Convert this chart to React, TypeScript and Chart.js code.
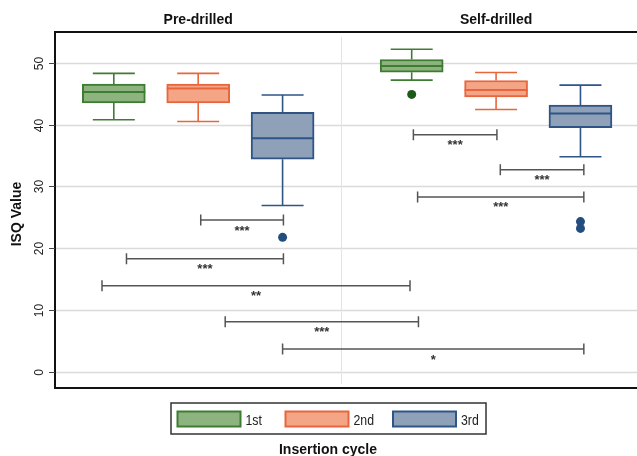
import React, { useEffect, useRef } from 'react';
import { Chart, registerables } from 'chart.js';

Chart.register(...registerables);

// ---------- data ----------
const categories = ['Pre-drilled', 'Self-drilled'];
const seriesNames = ['1st', '2nd', '3rd'];
// [series][category]
const lowerWhisker = [[40.8, 47.2], [40.5, 42.45], [26.9, 34.8]];
const q1Values = [[43.5, 48.5], [43.5, 44.5], [34.4, 39.5]];
const medianValues = [[45.3, 49.5], [45.85, 45.6], [37.8, 41.8]];
const q3Values = [[46.55, 50.55], [46.55, 47.15], [42.0, 43.15]];
const upperWhisker = [[48.3, 52.2], [48.3, 48.45], [44.8, 46.4]];
const outlierValues = [[[], [44.9]], [[], []], [[21.75], [24.3, 23.2]]];
const yTicks = [0, 10, 20, 30, 40, 50];
// significance brackets (x in box-position units, y in ISQ units)
const bracketFrom = [2.03, 1.15, 0.86, 2.32, 3.0, 4.55, 5.58, 4.6];
const bracketTo = [3.01, 3.01, 4.51, 4.61, 6.57, 5.54, 6.57, 6.57];
const bracketLevel = [24.55, 18.3, 13.9, 8.1, 3.67, 38.35, 32.7, 28.3];
const bracketLabels = ['***', '***', '**', '***', '*', '***', '***', '***'];

// ---------- styles ----------
const fills = ['#8db47e', '#f3a586', '#8ea1b8'];
const borders = ['#3f7c33', '#e8663d', '#2f5486'];
const outlierColors = ['#1d5a17', '#d9531e', '#234d7e'];
const GROUP_SHIFT = 3.53;
const pos = (s: number, c: number) => 1 + s + c * GROUP_SHIFT;
const FONT = "'Liberation Sans', Arial, sans-serif";
const BOX_W = 63;
const CAP_W = 42;

const decorPlugin = {
  id: 'decor',
  beforeDatasetsDraw(chart: any) {
    const { ctx, chartArea: a, scales } = chart;
    const y = scales.y;
    const x = scales.x;
    ctx.save();
    ctx.strokeStyle = '#dadada';
    ctx.lineWidth = 1.5;
    yTicks.forEach((t) => {
      const py = Math.round(y.getPixelForValue(t)) + 0.5;
      ctx.beginPath();
      ctx.moveTo(a.left, py);
      ctx.lineTo(a.right, py);
      ctx.stroke();
    });
    // panel divider
    const dx = Math.round(x.getPixelForValue(3.69)) + 0.5;
    ctx.strokeStyle = '#e4e4e4';
    ctx.lineWidth = 1;
    ctx.beginPath();
    ctx.moveTo(dx, a.top + 5);
    ctx.lineTo(dx, a.bottom - 4);
    ctx.stroke();
    // whiskers (behind boxes)
    seriesNames.forEach((_, s) => {
      categories.forEach((__, c) => {
        const px = x.getPixelForValue(pos(s, c));
        ctx.strokeStyle = borders[s];
        ctx.lineWidth = 1.6;
        const lo = y.getPixelForValue(lowerWhisker[s][c]);
        const hi = y.getPixelForValue(upperWhisker[s][c]);
        const b1 = y.getPixelForValue(q1Values[s][c]);
        const b3 = y.getPixelForValue(q3Values[s][c]);
        ctx.beginPath();
        ctx.moveTo(px, b3);
        ctx.lineTo(px, hi);
        ctx.moveTo(px - CAP_W / 2, hi);
        ctx.lineTo(px + CAP_W / 2, hi);
        ctx.moveTo(px, b1);
        ctx.lineTo(px, lo);
        ctx.moveTo(px - CAP_W / 2, lo);
        ctx.lineTo(px + CAP_W / 2, lo);
        ctx.stroke();
      });
    });
    ctx.restore();
  },
  afterDatasetsDraw(chart: any) {
    const { ctx, scales } = chart;
    const y = scales.y;
    const x = scales.x;
    ctx.save();
    // medians
    seriesNames.forEach((_, s) => {
      categories.forEach((__, c) => {
        const px = x.getPixelForValue(pos(s, c));
        const m = y.getPixelForValue(medianValues[s][c]);
        ctx.strokeStyle = borders[s];
        ctx.lineWidth = 2;
        ctx.beginPath();
        ctx.moveTo(px - BOX_W / 2, m);
        ctx.lineTo(px + BOX_W / 2, m);
        ctx.stroke();
      });
    });
    // brackets
    bracketLabels.forEach((lab, i) => {
      const x1 = x.getPixelForValue(bracketFrom[i]);
      const x2 = x.getPixelForValue(bracketTo[i]);
      const py = y.getPixelForValue(bracketLevel[i]);
      ctx.strokeStyle = '#555555';
      ctx.lineWidth = 1.5;
      ctx.beginPath();
      ctx.moveTo(x1, py);
      ctx.lineTo(x2, py);
      ctx.moveTo(x1, py - 5.5);
      ctx.lineTo(x1, py + 5.5);
      ctx.moveTo(x2, py - 5.5);
      ctx.lineTo(x2, py + 5.5);
      ctx.stroke();
      ctx.fillStyle = '#333333';
      ctx.font = `bold 13px ${FONT}`;
      ctx.textAlign = 'center';
      ctx.textBaseline = 'alphabetic';
      ctx.fillText(lab, (x1 + x2) / 2, py + 14.5);
    });
    ctx.restore();
  },
  afterDraw(chart: any) {
    const { ctx, chartArea: a, scales } = chart;
    const y = scales.y;
    const x = scales.x;
    ctx.save();
    // frame
    ctx.strokeStyle = '#111111';
    ctx.lineWidth = 2;
    ctx.beginPath();
    ctx.moveTo(a.right + 2, a.top);
    ctx.lineTo(a.left, a.top);
    ctx.lineTo(a.left, a.bottom);
    ctx.lineTo(a.right + 2, a.bottom);
    ctx.stroke();
    // y ticks + labels
    ctx.lineWidth = 1;
    ctx.strokeStyle = '#444444';
    ctx.fillStyle = '#222222';
    ctx.font = `12px ${FONT}`;
    yTicks.forEach((t) => {
      const py = Math.round(y.getPixelForValue(t)) + 0.5;
      ctx.beginPath();
      ctx.moveTo(a.left - 6, py);
      ctx.lineTo(a.left, py);
      ctx.stroke();
      ctx.save();
      ctx.translate(43, py);
      ctx.rotate(-Math.PI / 2);
      ctx.textAlign = 'center';
      ctx.textBaseline = 'alphabetic';
      ctx.fillText(String(t), 0, 0);
      ctx.restore();
    });
    // y title
    ctx.save();
    ctx.translate(21, (a.top + a.bottom) / 2 + 4);
    ctx.rotate(-Math.PI / 2);
    ctx.font = `bold 14px ${FONT}`;
    ctx.textAlign = 'center';
    ctx.textBaseline = 'alphabetic';
    ctx.fillStyle = '#111111';
    ctx.fillText('ISQ Value', 0, 0);
    ctx.restore();
    // panel titles
    ctx.font = `bold 14px ${FONT}`;
    ctx.fillStyle = '#111111';
    ctx.textAlign = 'center';
    ctx.textBaseline = 'alphabetic';
    categories.forEach((cat, c) => {
      ctx.fillText(cat, x.getPixelForValue(pos(1, c)), 24);
    });
    // legend
    const lx = 171, ly = 403, lw = 315, lh = 31;
    ctx.strokeStyle = '#333333';
    ctx.lineWidth = 1.5;
    ctx.strokeRect(lx, ly, lw, lh);
    const swX = [177.5, 285.5, 393];
    seriesNames.forEach((name, s) => {
      ctx.fillStyle = fills[s];
      ctx.fillRect(swX[s], 411.5, 63, 15);
      ctx.strokeStyle = borders[s];
      ctx.lineWidth = 2;
      ctx.strokeRect(swX[s], 411.5, 63, 15);
      ctx.save();
      ctx.translate(swX[s] + 68, 425);
      ctx.scale(0.82, 1);
      ctx.fillStyle = '#222222';
      ctx.font = `15px ${FONT}`;
      ctx.textAlign = 'left';
      ctx.fillText(name, 0, 0);
      ctx.restore();
    });
    // x title
    ctx.font = `bold 14px ${FONT}`;
    ctx.fillStyle = '#111111';
    ctx.textAlign = 'center';
    ctx.fillText('Insertion cycle', 328, 454);
    ctx.restore();
  },
};

export default function App() {
  const ref = useRef<HTMLCanvasElement | null>(null);
  useEffect(() => {
    if (!ref.current) return;
    const boxSets = seriesNames.map((name, s) => ({
      type: 'bar' as const,
      label: name,
      data: categories.map((_, c) => ({ x: pos(s, c), y: [q1Values[s][c], q3Values[s][c]] })),
      backgroundColor: fills[s],
      borderColor: borders[s],
      borderWidth: 2,
      borderSkipped: false,
      barThickness: BOX_W,
      grouped: false,
      order: 2,
    }));
    const outlierSets = seriesNames.map((name, s) => ({
      type: 'scatter' as const,
      label: name + ' outliers',
      data: categories.flatMap((_, c) => outlierValues[s][c].map((v) => ({ x: pos(s, c), y: v }))),
      backgroundColor: outlierColors[s],
      borderColor: outlierColors[s],
      pointRadius: 4.5,
      borderWidth: 0,
      order: 1,
    }));
    const chart = new Chart(ref.current, {
      type: 'bar',
      data: { datasets: [...boxSets, ...outlierSets] as any },
      options: {
        responsive: false,
        animation: false,
        devicePixelRatio: 1,
        layout: { autoPadding: false, padding: { left: 55, top: 32, right: 0, bottom: 68 } },
        plugins: { legend: { display: false }, tooltip: { enabled: false } },
        scales: {
          x: { type: 'linear', min: 0.303, max: 7.2, offset: false, display: false },
          y: { type: 'linear', min: -2.64, max: 55.0, display: false },
        },
      },
      plugins: [decorPlugin],
    });
    return () => chart.destroy();
  }, []);
  return (
    <div style={{ position: 'absolute', left: 0, top: 0, width: 637, height: 456, background: '#fff' }}>
      <canvas ref={ref} width={637} height={456} style={{ width: 637, height: 456, display: 'block' }} />
    </div>
  );
}
